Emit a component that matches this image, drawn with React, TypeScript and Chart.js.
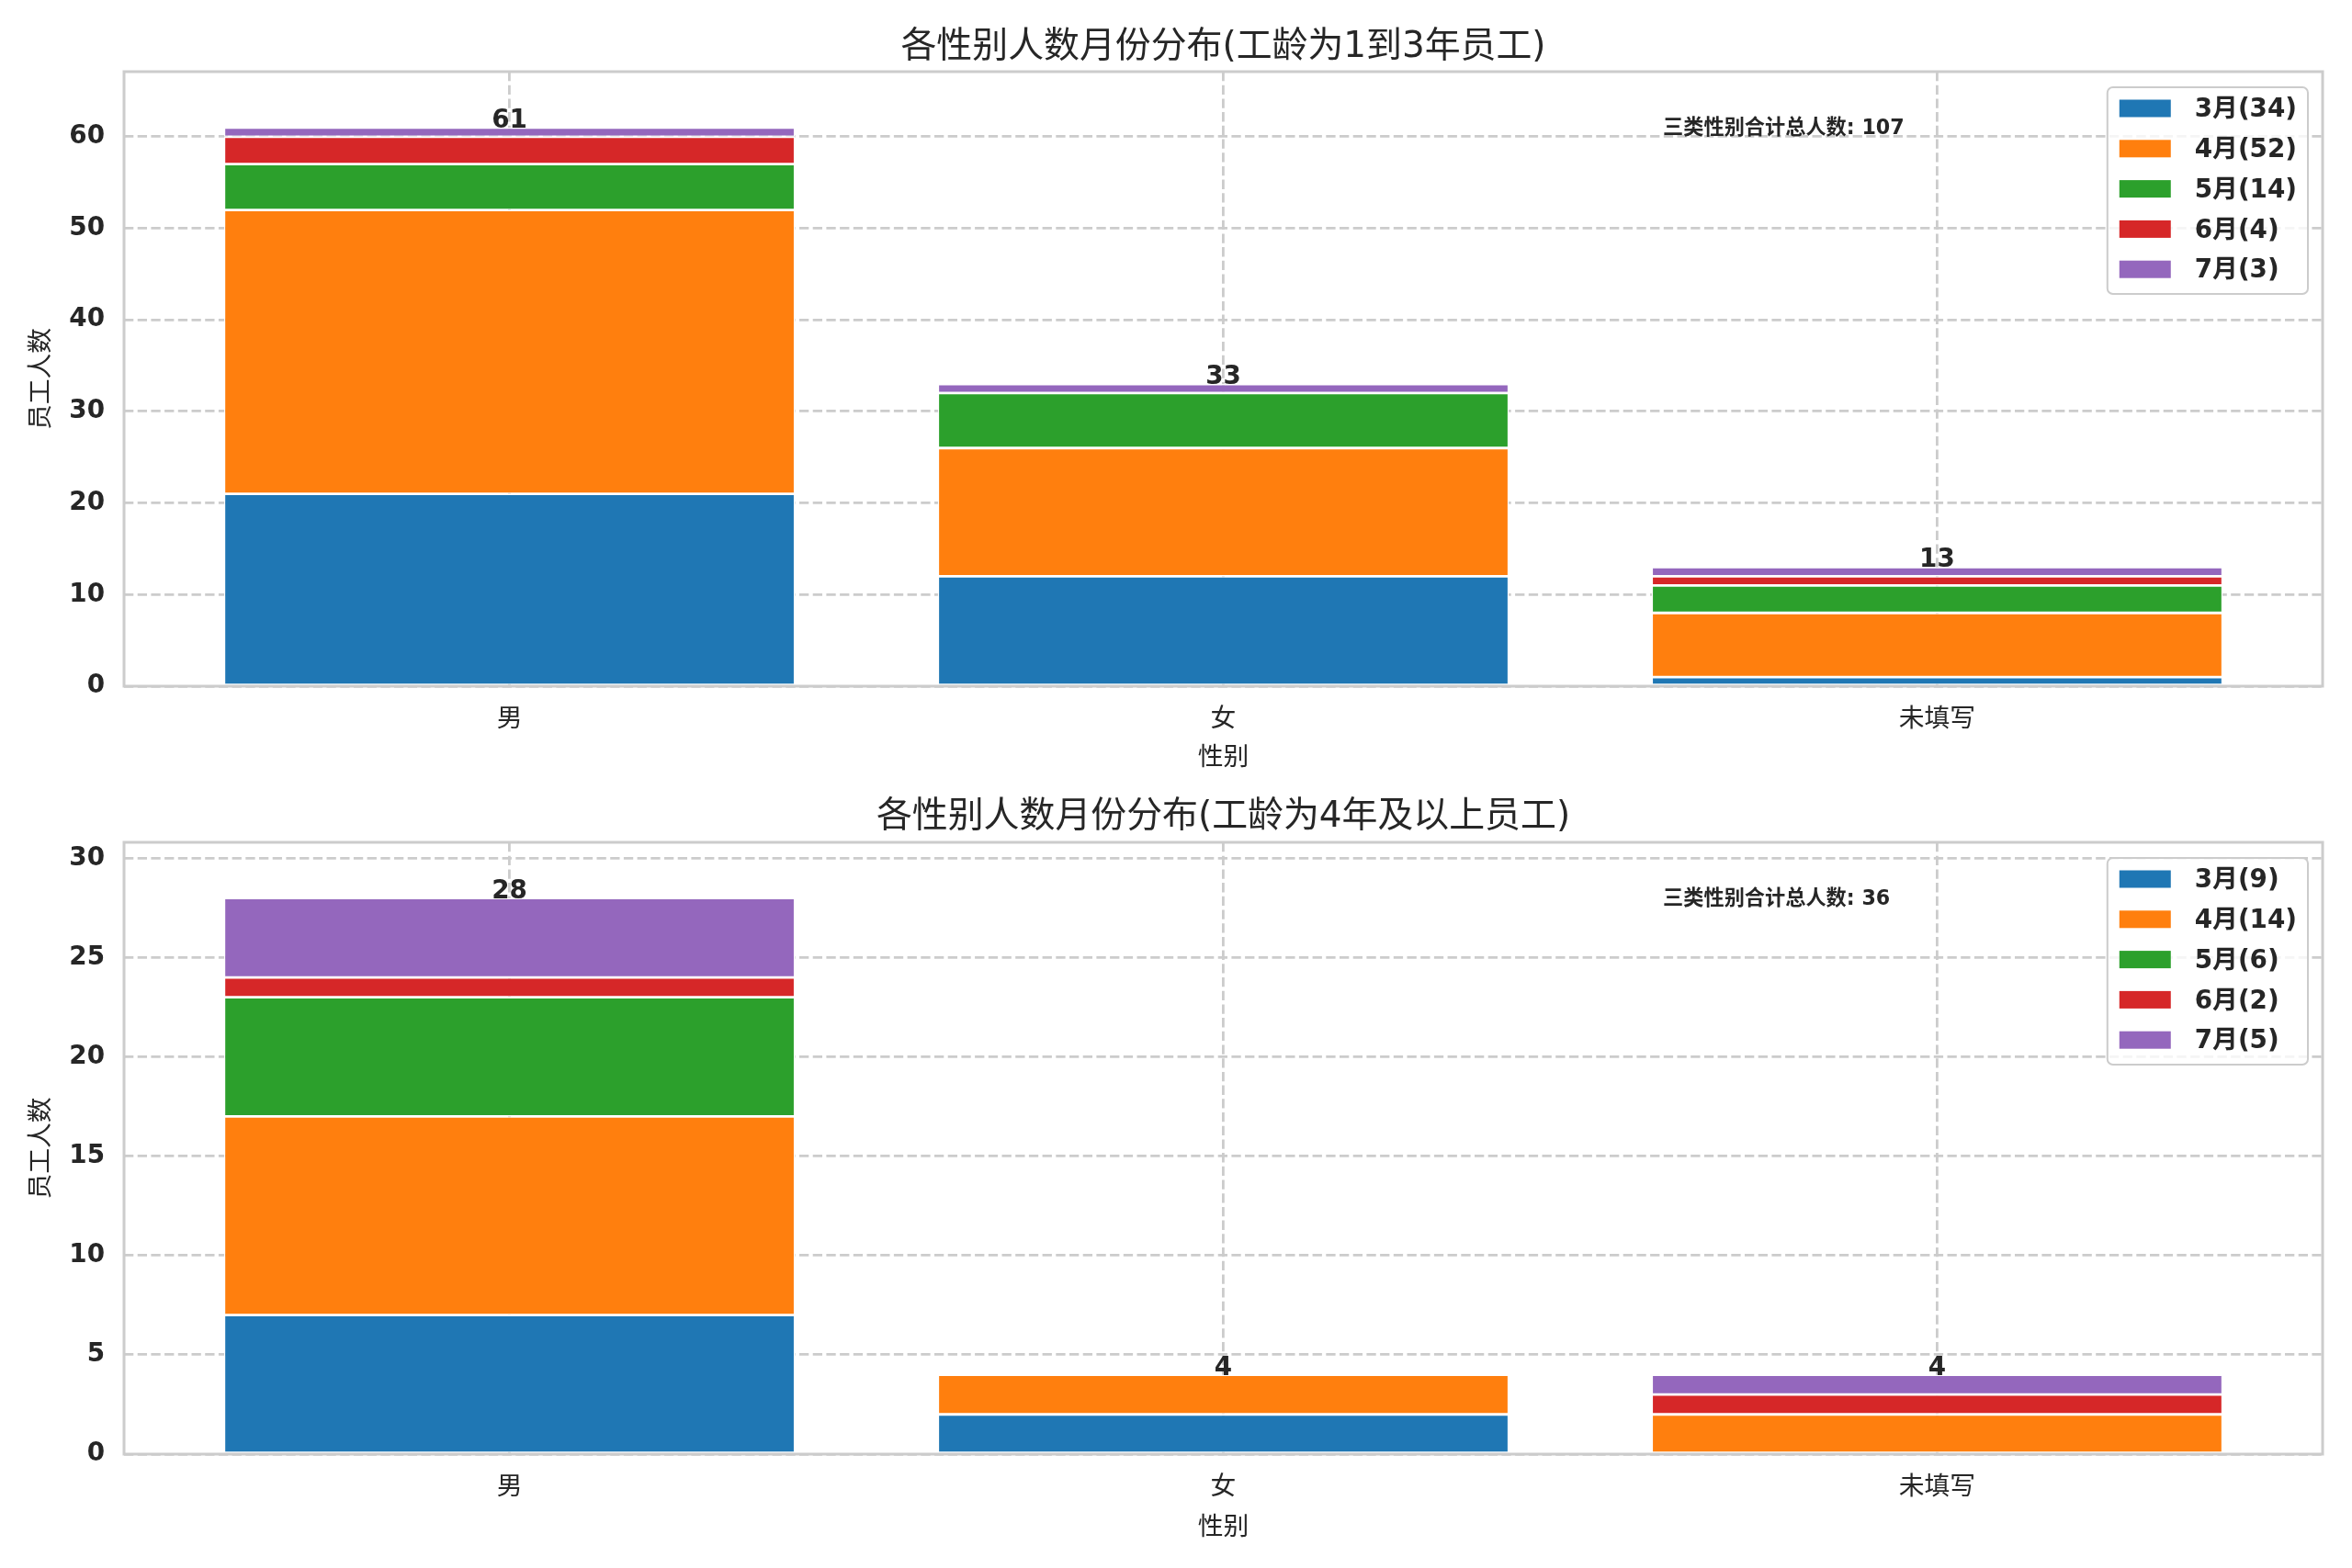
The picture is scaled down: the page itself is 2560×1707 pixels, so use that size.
import { useEffect, useRef } from "react";
import { Chart, registerables, type Plugin } from "chart.js";

Chart.register(...registerables);

const FONT = "'DejaVu Sans', 'Noto Sans CJK SC', sans-serif";
const INK = "#262626";
const GRID = "#cccccc";

const genders = ["男", "女", "未填写"];
const months = ["3月", "4月", "5月", "6月", "7月"];
const monthColors = ["#1f77b4", "#ff7f0e", "#2ca02c", "#d62728", "#9467bd"];

// 工龄 1–3 年, one array per month, values per gender
const shortMar = [21, 12, 1];
const shortApr = [31, 14, 7];
const shortMay = [5, 6, 3];
const shortJun = [3, 0, 1];
const shortJul = [1, 1, 1];
const shortTicks = [0, 10, 20, 30, 40, 50, 60];

// 工龄 4 年及以上
const longMar = [7, 2, 0];
const longApr = [10, 2, 2];
const longMay = [6, 0, 0];
const longJun = [1, 0, 1];
const longJul = [4, 0, 1];
const longTicks = [0, 5, 10, 15, 20, 25, 30];

const sum = (a: number[]) => a.reduce((s, v) => s + v, 0);

type Layout = {
  height: number;
  areaTop: number;
  xAxisH: number;
  xTitlePad: number;
  titleY: number;
};

type PanelProps = {
  title: string;
  series: number[][];
  yTicks: number[];
  layout: Layout;
};

function Panel({ title, series, yTicks, layout }: PanelProps) {
  const canvasRef = useRef<HTMLCanvasElement | null>(null);
  const chartRef = useRef<Chart | null>(null);

  useEffect(() => {
    const canvas = canvasRef.current;
    if (!canvas) return;
    chartRef.current?.destroy();

    const totals = genders.map((_, g) => sum(series.map((s) => s[g])));
    const grand = sum(totals);
    const yMax = Math.max(...totals) * 1.1;

    const decor: Plugin<"bar"> = {
      id: "decor",
      afterDatasetsDraw(chart) {
        const { ctx, chartArea: a, scales } = chart;
        ctx.save();
        // frame
        ctx.strokeStyle = GRID;
        ctx.lineWidth = 3;
        ctx.strokeRect(a.left, a.top, a.right - a.left, a.bottom - a.top);
        // totals above bars
        ctx.fillStyle = INK;
        ctx.font = `bold 27.8px ${FONT}`;
        ctx.textAlign = "center";
        ctx.textBaseline = "alphabetic";
        totals.forEach((t, g) => {
          ctx.fillText(
            String(t),
            scales.x.getPixelForValue(g),
            scales.y.getPixelForValue(t),
          );
        });
        ctx.restore();
      },
      afterDraw(chart) {
        const { ctx, chartArea: a } = chart;
        const w = a.right - a.left;
        ctx.save();
        // title
        ctx.fillStyle = INK;
        ctx.font = `normal 38.9px ${FONT}`;
        ctx.textAlign = "center";
        ctx.textBaseline = "middle";
        ctx.fillText(title, (a.left + a.right) / 2, layout.titleY + 3);
        // annotation
        ctx.font = `bold 22.2px ${FONT}`;
        ctx.textAlign = "left";
        ctx.fillText(`三类性别合计总人数: ${grand}`, a.left + 0.7 * w, a.top + 62);
        // legend
        ctx.font = `bold 27.8px ${FONT}`;
        const labels = months.map((m, i) => `${m}(${sum(series[i])})`);
        const textW = Math.max(...labels.map((l) => ctx.measureText(l).width));
        const boxW = 13 + 56 + 26 + textW + 12;
        const boxH = 225;
        const bx = a.right - 16 - boxW;
        const by = a.top + 17;
        ctx.beginPath();
        ctx.roundRect(bx, by, boxW, boxH, 6);
        ctx.fillStyle = "rgba(255,255,255,0.8)";
        ctx.fill();
        ctx.strokeStyle = GRID;
        ctx.lineWidth = 2;
        ctx.stroke();
        labels.forEach((l, i) => {
          const cy = by + 23 + i * 43.8;
          ctx.fillStyle = monthColors[i];
          ctx.fillRect(bx + 13, cy - 9.5, 56, 19);
          ctx.fillStyle = INK;
          ctx.fillText(l, bx + 95, cy + 2);
        });
        ctx.restore();
      },
    };

    chartRef.current = new Chart(canvas, {
      type: "bar",
      data: {
        datasets: months.map((m, i) => ({
          label: m,
          data: genders.map((_, g) => ({ x: g, y: series[i][g] })),
          backgroundColor: monthColors[i],
          borderColor: "#ffffff",
          borderWidth: 1.4,
          borderSkipped: false,
          barPercentage: 0.8,
          categoryPercentage: 1,
        })),
      },
      options: {
        animation: false,
        responsive: true,
        maintainAspectRatio: false,
        events: [],
        layout: { padding: { top: layout.areaTop, right: 32, bottom: 0, left: 0 } },
        plugins: {
          legend: { display: false },
          title: { display: false },
          tooltip: { enabled: false },
        },
        scales: {
          x: {
            type: "linear",
            stacked: true,
            offset: false,
            bounds: "data",
            min: -0.54,
            max: genders.length - 1 + 0.54,
            afterBuildTicks: (scale) => {
              scale.ticks = genders.map((_, i) => ({ value: i }));
            },
            afterFit: (scale) => {
              scale.height = layout.xAxisH;
            },
            ticks: {
              autoSkip: false,
              maxRotation: 0,
              padding: 20,
              color: INK,
              font: { family: FONT, size: 27.8, weight: "normal" },
              callback: (_v, i) => genders[i],
            },
            grid: { color: GRID, lineWidth: 2.8, drawTicks: false, offset: false },
            border: { display: false, dash: [10.3, 4.4] },
            title: {
              display: true,
              text: "性别",
              color: INK,
              font: { family: FONT, size: 27.8, weight: "normal" },
              padding: { top: 0, bottom: layout.xTitlePad },
            },
          },
          y: {
            stacked: true,
            bounds: "data",
            min: 0,
            max: yMax,
            afterBuildTicks: (scale) => {
              scale.ticks = yTicks.map((v) => ({ value: v }));
            },
            afterFit: (scale) => {
              scale.width = 135;
            },
            ticks: {
              padding: 21,
              color: INK,
              font: { family: FONT, size: 27.8, weight: "bold" },
            },
            grid: { color: GRID, lineWidth: 2.8, drawTicks: false },
            border: { display: false, dash: [10.3, 4.4] },
            title: {
              display: true,
              text: "员工人数",
              color: INK,
              font: { family: FONT, size: 27.8, weight: "normal" },
              padding: { top: 29.3, bottom: 0 },
            },
          },
        },
      },
      plugins: [decor],
    });

    return () => {
      chartRef.current?.destroy();
      chartRef.current = null;
    };
  }, [title, series, yTicks, layout]);

  return (
    <div style={{ position: "relative", width: 2560, height: layout.height }}>
      <canvas ref={canvasRef} />
    </div>
  );
}

const shortSeries = [shortMar, shortApr, shortMay, shortJun, shortJul];
const longSeries = [longMar, longApr, longMay, longJun, longJul];

const topLayout: Layout = { height: 853, areaTop: 78, xAxisH: 106, xTitlePad: 10.5, titleY: 49 };
const bottomLayout: Layout = { height: 854, areaTop: 64, xAxisH: 124, xTitlePad: 26.5, titleY: 34 };

export default function App() {
  useEffect(() => {
    document.body.style.margin = "0";
    document.body.style.overflow = "hidden";
    document.body.style.background = "#ffffff";
  }, []);

  return (
    <div style={{ width: 2560, height: 1707, background: "#ffffff" }}>
      <Panel
        title="各性别人数月份分布(工龄为1到3年员工)"
        series={shortSeries}
        yTicks={shortTicks}
        layout={topLayout}
      />
      <Panel
        title="各性别人数月份分布(工龄为4年及以上员工)"
        series={longSeries}
        yTicks={longTicks}
        layout={bottomLayout}
      />
    </div>
  );
}
